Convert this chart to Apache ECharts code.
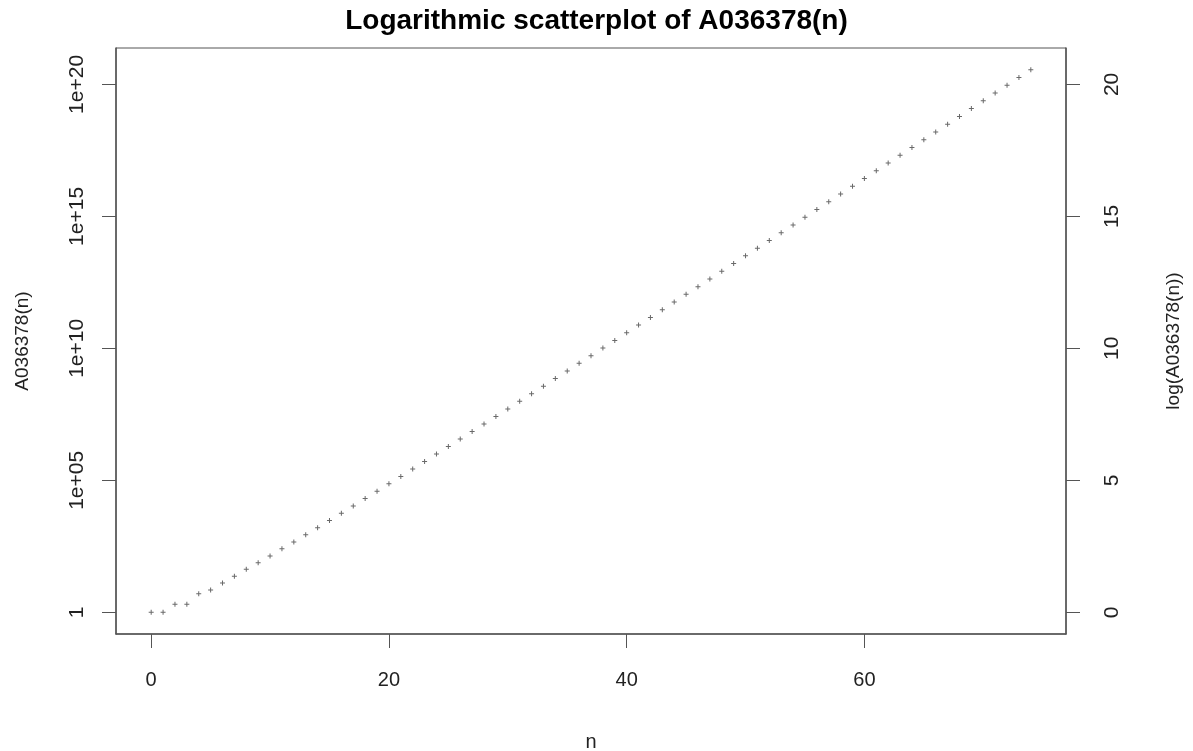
<!DOCTYPE html>
<html><head><meta charset="utf-8">
<script src="https://cdn.jsdelivr.net/npm/echarts@6/dist/echarts.min.js"></script>
<style>html,body{margin:0;padding:0;background:#fff}#c{width:1193px;height:751px}</style>
</head><body><div id="c"></div>
<script>
// n = 0..74
const nValues = Array.from({length: 75}, (_, i) => i);
const a036378 = [
  1, 1, 2, 2, 5, 7, 13, 23, 43, 75,
  137, 255, 464, 872, 1612, 3030, 5709, 10749, 20390, 38635,
  73586, 140336, 268216, 513708, 985818, 1894120, 3645744, 7027290, 13561907, 26207278,
  50697537, 98182656, 190335585, 369323305, 717267168, 1394192236, 2712103833, 5279763824, 10285641368, 20051180298,
  39109938784, 76320676520, 149005222827, 291041079237, 568687878287, 1111646336398, 2173823362208, 4252470959690, 8321508848014, 16289866422979,
  3.1928e13, 6.2605e13, 1.2280e14, 2.4097e14, 4.7303e14, 9.2885e14, 1.8245e15, 3.5850e15, 7.0463e15, 1.3854e16,
  2.7246e16, 5.3599e16, 1.0547e17, 2.0760e17, 4.0872e17, 8.0485e17, 1.5853e18, 3.1232e18, 6.1546e18, 1.2131e19,
  2.3915e19, 4.7156e19, 9.3001e19, 1.8345e20, 3.6195e20
];
const xTicks = [0, 20, 40, 60];
const yTicks = [0, 5, 10, 15, 20];
const leftTickLabels = ['1', '1e+05', '1e+10', '1e+15', '1e+20'];
const rightTickLabels = ['0', '5', '10', '15', '20'];

const pts = nValues.map((n, i) => [n, Math.log10(a036378[i])]);
const font = "'Liberation Sans', Arial, Helvetica, sans-serif";
const plus = 'path://M2,0H3V2H5V3H3V5H2V3H0V2H2Z';

const chart = echarts.init(document.getElementById('c'), null, {renderer: 'canvas'});
chart.setOption({
  animation: false,
  backgroundColor: '#fff',
  title: {
    text: 'Logarithmic scatterplot of A036378(n)',
    left: 'center', top: 2,
    textStyle: {fontFamily: font, fontWeight: 'bold', fontSize: 28, color: '#000'}
  },
  grid: {left: 116, right: 127, top: 48, bottom: 117, show: true, borderColor: '#555', borderWidth: 1,
    containLabel: false, outerBoundsMode: 'none'},
  xAxis: {
    type: 'value', min: -2.96, max: 76.96,
    name: 'n', nameLocation: 'middle', nameGap: 98,
    nameTextStyle: {fontFamily: font, fontSize: 20, color: '#222'},
    axisLine: {show: true, onZero: false, lineStyle: {color: '#555', width: 1.5}},
    axisTick: {show: true, customValues: xTicks, length: 14, lineStyle: {color: '#555'}},
    axisLabel: {customValues: xTicks, margin: 36, fontFamily: "'Liberation Sans Narrow', " + font, fontSize: 20, color: '#222'},
    splitLine: {show: false}
  },
  yAxis: [{
    type: 'value', min: -0.822, max: 21.38, position: 'left',
    name: 'A036378(n)', nameLocation: 'middle', nameGap: 84,
    nameTextStyle: {fontFamily: font, fontSize: 19, color: '#222'},
    axisLine: {show: true, onZero: false, lineStyle: {color: '#555', width: 1.5}},
    axisTick: {show: true, customValues: yTicks, length: 14, lineStyle: {color: '#555'}},
    axisLabel: {customValues: yTicks, rotate: 90, margin: 28, fontFamily: font, fontSize: 21, color: '#222',
      formatter: v => leftTickLabels[yTicks.indexOf(Math.round(v))] || ''},
    splitLine: {show: false}
  }, {
    type: 'value', min: -0.822, max: 21.38, position: 'right',
    name: 'log(A036378(n))', nameLocation: 'middle', nameGap: 98,
    nameTextStyle: {fontFamily: font, fontSize: 19, color: '#222'},
    axisLine: {show: true, onZero: false, lineStyle: {color: '#555', width: 1.5}},
    axisTick: {show: true, customValues: yTicks, length: 14, lineStyle: {color: '#555'}},
    axisLabel: {customValues: yTicks, rotate: 90, margin: 36, fontFamily: font, fontSize: 21, color: '#222',
      formatter: v => rightTickLabels[yTicks.indexOf(Math.round(v))] || ''},
    splitLine: {show: false}
  }],
  series: [{
    type: 'scatter', yAxisIndex: 0, data: pts,
    symbol: plus, symbolSize: 5,
    itemStyle: {color: '#444'}
  }]
});
</script></body></html>
